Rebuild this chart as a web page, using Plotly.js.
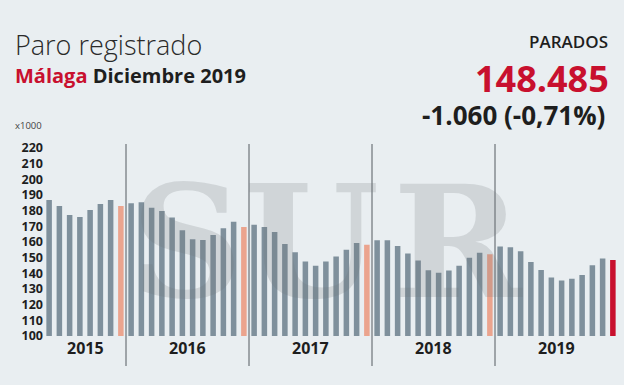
<!DOCTYPE html>
<html>
<head>
<meta charset="utf-8">
<script src="https://cdn.plot.ly/plotly-3.0.1.min.js"></script>
<style>
html,body{margin:0;padding:0;background:#e9eef1;}
#chart{width:624px;height:385px;}
</style>
</head>
<body>
<div id="chart"></div>
<script>
// ---- data (thousands of registered unemployed, Málaga) ----
const years = ['2015', '2016', '2017', '2018', '2019'];
const months = ['Ene','Feb','Mar','Abr','May','Jun','Jul','Ago','Sep','Oct','Nov','Dic'];
const values2015 = [186.8, 183.0, 177.3, 176.0, 180.4, 184.3, 186.8, 183.0]; // May-Dec
const values2016 = [184.7, 185.3, 181.9, 179.8, 175.6, 167.5, 161.8, 161.3, 164.5, 168.8, 173.0, 169.5];
const values2017 = [171.0, 169.5, 166.4, 158.8, 153.5, 147.5, 144.8, 147.5, 150.7, 155.0, 159.4, 158.3];
const values2018 = [161.1, 161.1, 157.5, 152.6, 148.2, 142.0, 140.3, 141.8, 144.8, 149.9, 153.1, 152.2];
const values2019 = [157.1, 156.7, 154.1, 147.3, 142.2, 137.3, 135.4, 136.5, 139.0, 145.1, 149.5, 148.5];
const yTicks = [100,110,120,130,140,150,160,170,180,190,200,210,220];
const headline = {label: 'PARADOS', total: '148.485', change: '-1.060 (-0,71%)'};

// ---- build series ----
const seriesByYear = [values2015, values2016, values2017, values2018, values2019];
const firstMonth = [4, 0, 0, 0, 0];
const cats = [], vals = [], cols = [];
const yearStart = [];
seriesByYear.forEach((arr, yi) => {
  yearStart.push(cats.length);
  arr.forEach((v, i) => {
    const m = firstMonth[yi] + i;
    cats.push(months[m] + ' ' + years[yi]);
    vals.push(v);
  });
});
const last = vals.length - 1;
cats.forEach((c, i) => {
  const isDec = c.startsWith('Dic');
  cols.push(i === last ? '#c8102e' : (isDec ? '#eba48e' : '#7f909c'));
});

// ---- layout helpers ----
const W = 624, H = 385;
const M = {l: 44, r: 6, t: 148, b: 49};
const px = x => (x - M.l) / (W - M.l - M.r);
const py = y => (H - M.b - y) / (H - M.t - M.b);
const FONT = 'Open Sans, Noto Sans, sans-serif';
const DARK = '#1e1e1e';

const shapes = [];
const annotations = [];
for (let yi = 1; yi < years.length; yi++) {
  const xb = yearStart[yi] - 0.5;
  shapes.push({type: 'line', xref: 'x', yref: 'paper', x0: xb, x1: xb,
    y0: py(366), y1: py(144), line: {color: '#555b60', width: 1}});
}
years.forEach((y, yi) => {
  const s = yearStart[yi];
  const e = yi + 1 < years.length ? yearStart[yi + 1] - 1 : last;
  annotations.push({xref: 'x', yref: 'paper', x: (s + e) / 2, y: py(348),
    text: y, showarrow: false, xanchor: 'center', yanchor: 'middle',
    font: {family: FONT, size: 16, color: DARK, weight: 'bold'}});
});

// watermark
[['S', 187], ['U', 311], ['R', 458]].forEach(([t, x]) => {
  annotations.push({xref: 'paper', yref: 'paper', x: px(x), y: py(242), text: t,
    showarrow: false, xanchor: 'center', yanchor: 'middle',
    font: {family: 'DejaVu Serif, Liberation Serif, serif', size: 155, color: 'rgba(110,115,120,0.20)', weight: 'bold'}});
});

// titles
annotations.push(
  {xref: 'paper', yref: 'paper', x: px(13), y: py(44), text: 'Paro registrado',
   showarrow: false, xanchor: 'left', yanchor: 'middle',
   font: {family: FONT, size: 27, color: '#2a2a2a', weight: 300}},
  {xref: 'paper', yref: 'paper', x: px(13), y: py(76),
   text: '<span style="color:#c8102e">Málaga</span> Diciembre 2019',
   showarrow: false, xanchor: 'left', yanchor: 'middle',
   font: {family: FONT, size: 20, color: DARK, weight: 'bold'}},
  {xref: 'paper', yref: 'paper', x: px(13), y: py(125), text: 'x1000',
   showarrow: false, xanchor: 'left', yanchor: 'middle',
   font: {family: FONT, size: 9.5, color: '#444'}},
  {xref: 'paper', yref: 'paper', x: px(610), y: py(41), text: headline.label,
   showarrow: false, xanchor: 'right', yanchor: 'middle',
   font: {family: FONT, size: 17, color: DARK, weight: 600}},
  {xref: 'paper', yref: 'paper', x: px(610), y: py(78), text: headline.total,
   showarrow: false, xanchor: 'right', yanchor: 'middle', borderpad: 0,
   font: {family: FONT, size: 36, color: '#c8102e', weight: 'bold'}},
  {xref: 'paper', yref: 'paper', x: px(606), y: py(115), text: headline.change,
   showarrow: false, xanchor: 'right', yanchor: 'middle', borderpad: 0,
   font: {family: FONT, size: 26, color: DARK, weight: 'bold'}}
);

const trace = {
  type: 'bar', x: cats, y: vals, marker: {color: cols, line: {width: 0}},
  hoverinfo: 'x+y'
};

const layout = {
  width: W, height: H,
  margin: M,
  paper_bgcolor: '#e9eef1', plot_bgcolor: 'rgba(0,0,0,0)',
  bargap: 0.46,
  showlegend: false,
  xaxis: {type: 'category', showticklabels: false, showgrid: false, zeroline: false,
    showline: false, ticks: '', range: [-0.5, last + 0.5], fixedrange: true},
  yaxis: {range: [100, 220], tickvals: yTicks, ticktext: yTicks.map(String),
    showgrid: false, zeroline: false, showline: false, ticks: '',
    tickfont: {family: FONT, size: 12.5, color: DARK, weight: 'bold'}, fixedrange: true},
  shapes: shapes,
  annotations: annotations
};

Plotly.newPlot('chart', [trace], layout, {displayModeBar: false, staticPlot: true});
</script>
</body>
</html>
